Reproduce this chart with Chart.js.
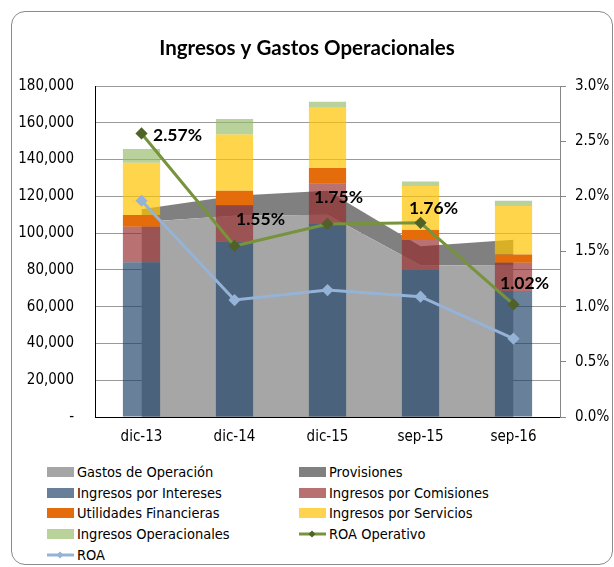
<!DOCTYPE html>
<html>
<head>
<meta charset="utf-8">
<script src="https://cdn.jsdelivr.net/npm/chart.js@4.4.1/dist/chart.umd.min.js"></script>
<style>
  body { margin: 0; background: #fff; }
  #wrap { position: relative; width: 614px; height: 567px; overflow: hidden; }
  #frame { position: absolute; left: 11px; top: 11px; width: 600px; height: 552px;
           border: 1px solid #8a8a8a; border-radius: 14px; }
  #chart { position: absolute; left: 0; top: 0; }
  #legend { position: absolute; left: 0; top: 462px; width: 614px;
            font: 14.5px "DejaVu Sans Condensed", "DejaVu Sans", sans-serif; color: #000; }
  .item { position: absolute; height: 20px; line-height: 20px; white-space: nowrap; }
  .item .box { position: absolute; left: 0; top: 5px; width: 27px; height: 10px; }
  .item .txt { position: absolute; left: 30px; top: 0; }
</style>
</head>
<body>
<div id="wrap">
  <div id="frame"></div>
  <canvas id="chart" width="614" height="450"></canvas>
  <div id="legend"></div>
</div>
<script>
// Données
const categories = ['dic-13', 'dic-14', 'dic-15', 'sep-15', 'sep-16'];

const gastosOperacion = [106000, 109500, 110000, 82500, 82300];
const provisiones = [7000, 10800, 13000, 10300, 14100];

const ingresosIntereses = [84200, 95300, 105000, 80000, 68500];
const ingresosComisiones = [19300, 19900, 21900, 16300, 15400];
const utilidadesFinancieras = [6400, 7900, 8500, 5400, 4500];
const ingresosServicios = [28400, 30500, 32800, 23900, 26300];
const ingresosOperacionales = [7400, 8400, 3300, 2400, 2900];

const roaOperativo = [2.57, 1.55, 1.75, 1.76, 1.02];
const roa = [1.96, 1.06, 1.15, 1.09, 0.71];

const yTicks = [0, 20000, 40000, 60000, 80000, 100000, 120000, 140000, 160000, 180000];

const tickFont = { family: '"DejaVu Sans Condensed", "DejaVu Sans", sans-serif', size: 15 };

// Etiquetas del ROA Operativo (desplazamiento respecto al punto)
const labelOffsets = [[36, 2], [26, -27], [11, -27], [13, -14], [11, -21]];

const roaLabels = {
  id: 'roaLabels',
  afterDatasetsDraw(chart) {
    const meta = chart.getDatasetMeta(7);
    const ctx = chart.ctx;
    ctx.save();
    ctx.font = 'bold 17.5px Lato, sans-serif';
    ctx.fillStyle = '#000';
    ctx.textAlign = 'center';
    ctx.textBaseline = 'middle';
    meta.data.forEach((pt, i) => {
      const v = chart.data.datasets[7].data[i];
      ctx.fillText(v.toFixed(2) + '%', pt.x + labelOffsets[i][0], pt.y + labelOffsets[i][1]);
    });
    ctx.restore();
  }
};

function barSet(label, data, color) {
  return {
    type: 'bar', label, data, backgroundColor: color, stack: 'bars', yAxisID: 'y',
    order: 1, categoryPercentage: 1, barPercentage: 0.4, borderWidth: 0
  };
}

const ctx = document.getElementById('chart').getContext('2d');
const chart = new Chart(ctx, {
  data: {
    labels: categories,
    datasets: [
      { type: 'line', label: 'Gastos de Operación', data: gastosOperacion, stack: 'area', yAxisID: 'y',
        fill: 'origin', backgroundColor: '#A6A6A6', borderWidth: 0, pointRadius: 0, order: 2 },
      { type: 'line', label: 'Provisiones', data: provisiones, stack: 'area', yAxisID: 'y',
        fill: '-1', backgroundColor: '#808080', borderWidth: 0, pointRadius: 0, order: 2 },
      barSet('Ingresos por Intereses', ingresosIntereses, 'rgba(27,62,101,0.66)'),
      barSet('Ingresos por Comisiones', ingresosComisiones, 'rgba(148,39,39,0.66)'),
      barSet('Utilidades Financieras', utilidadesFinancieras, '#E46C0A'),
      barSet('Ingresos por Servicios', ingresosServicios, 'rgba(255,195,0,0.70)'),
      barSet('Ingresos Operacionales', ingresosOperacionales, 'rgba(149,187,103,0.66)'),
      { type: 'line', label: 'ROA Operativo', data: roaOperativo, yAxisID: 'y1', order: 0,
        borderColor: '#77933C', borderWidth: 3, fill: false, tension: 0,
        pointStyle: 'rectRot', pointRadius: 4, pointBackgroundColor: '#4F6228', pointBorderColor: '#4F6228' },
      { type: 'line', label: 'ROA', data: roa, yAxisID: 'y1', order: 0,
        borderColor: '#95B3D7', borderWidth: 3, fill: false, tension: 0,
        pointStyle: 'rectRot', pointRadius: 4, pointBackgroundColor: '#95B3D7', pointBorderColor: '#95B3D7' }
    ]
  },
  options: {
    responsive: false,
    animation: false,
    layout: { padding: { left: 0, right: 0, top: 0, bottom: 0 } },
    plugins: {
      legend: { display: false },
      tooltip: { enabled: false },
      title: {
        display: true,
        text: 'Ingresos y Gastos Operacionales',
        color: '#000',
        font: { family: 'Lato, sans-serif', size: 20.5, weight: 'bold', lineHeight: 1.2 },
        padding: { top: 36, bottom: 25.4 }
      }
    },
    scales: {
      x: {
        stacked: true,
        grid: { display: false, drawTicks: false },
        border: { display: true, color: '#000', width: 1 },
        ticks: { color: '#000', font: tickFont, padding: 11, maxRotation: 0 },
        afterFit(scale) { scale.height = 33; }
      },
      y: {
        stacked: true,
        position: 'left',
        min: 0, max: 180000,
        afterBuildTicks(scale) { scale.ticks = yTicks.map(v => ({ value: v })); },
        grid: { color: '#9a9a9a', drawTicks: false },
        border: { display: true, color: '#000', width: 1 },
        ticks: {
          color: '#000', font: tickFont, padding: 21,
          callback: v => v === 0 ? '-' : v.toLocaleString('en-US')
        },
        afterFit(scale) { scale.width = 95; }
      },
      y1: {
        stacked: false,
        position: 'right',
        min: 0, max: 3,
        grid: { drawOnChartArea: false, drawTicks: true, tickLength: 6, color: '#868686' },
        border: { display: true, color: '#868686', width: 1 },
        ticks: {
          stepSize: 0.5, color: '#000', font: tickFont, padding: 9,
          callback: v => v.toFixed(1) + '%'
        },
        afterFit(scale) { scale.width = 54; }
      }
    }
  },
  plugins: [roaLabels]
});

// Leyenda en dos columnas
const legendLayout = [
  [0, 0], [1, 0], [0, 1], [1, 1], [0, 2], [1, 2], [0, 3], [1, 3], [0, 4]
];
const legendColors = ['#A6A6A6', '#808080', '#687F99', '#B87070', '#E46C0A', '#FFD34D', '#B9D29A', '#77933C', '#95B3D7'];
const legendEl = document.getElementById('legend');
chart.data.datasets.forEach((ds, i) => {
  const [col, row] = legendLayout[i];
  const item = document.createElement('div');
  item.className = 'item';
  item.style.left = (col === 0 ? 47 : 299) + 'px';
  item.style.top = (row * 20.7) + 'px';
  let marker;
  if (ds.type === 'line' && ds.yAxisID === 'y1') {
    const mk = ds.pointBackgroundColor;
    marker = '<svg class="box" style="top:4px;height:12px" width="27" height="12">' +
      '<line x1="0" y1="6" x2="27" y2="6" stroke="' + ds.borderColor + '" stroke-width="3"/>' +
      '<rect x="10.5" y="3.5" width="5" height="5" fill="' + mk + '" transform="rotate(45 13 6)"/></svg>';
  } else {
    marker = '<div class="box" style="background:' + legendColors[i] + '"></div>';
  }
  item.innerHTML = marker + '<span class="txt">' + ds.label + '</span>';
  legendEl.appendChild(item);
});
</script>
</body>
</html>
